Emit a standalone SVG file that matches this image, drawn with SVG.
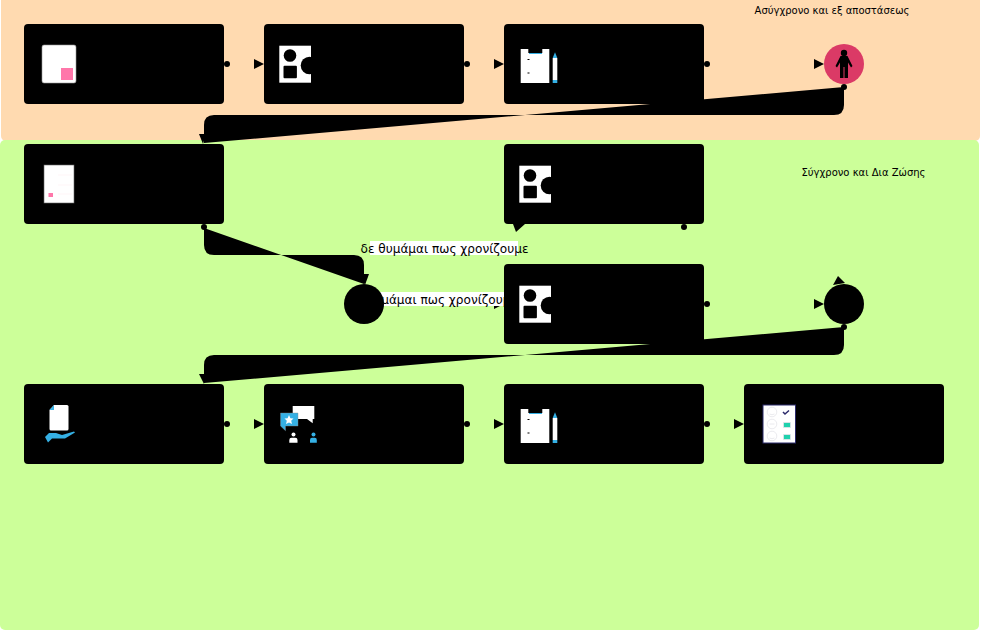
<svg xmlns="http://www.w3.org/2000/svg" width="982" height="632" viewBox="0 0 982 632">
<defs>
<style>
.box{fill:#000}
.t{font-family:"DejaVu Sans",sans-serif;fill:#000}
.w{fill:#fff}
.c{fill:#35b0e4}
</style>
<g id="ic-shapes"><rect x="-0.700" y="-0.300" width="31.700" height="37" class="w"/><circle cx="10" cy="9.500" r="6.300"/><rect x="3.500" y="19.700" width="13.400" height="12.600" rx="1"/><circle cx="29.500" cy="19.500" r="8.800"/></g>
<g id="ic-clip"><path class="w" d="M-0.300 0H7.300V4H21.300V0H28.300V34H-0.300Z"/><rect x="8" y="4" width="13" height="1" class="c"/><rect x="6.500" y="10" width="2" height="1"/><rect x="6.500" y="23.500" width="2" height="1"/><path class="c" d="M31.700 9L34 3.300L36.300 9Z"/><rect x="31.700" y="9" width="4.600" height="22" class="w"/><rect x="31.700" y="31" width="4.600" height="3" class="c"/></g>
<circle id="dot" r="3"/>
<path id="ar" d="M-10 -5L0 0L-10 5Z"/>
</defs>
<rect x="1" y="-6" width="979" height="147" rx="5" fill="#ffdab0"/>
<rect x="0" y="140" width="979" height="490" rx="5" fill="#ccff99"/>
<text class="t" x="832" y="14" font-size="10" text-anchor="middle">Ασύγχρονο και εξ αποστάσεως</text>
<text class="t" x="863.500" y="176" font-size="10" text-anchor="middle">Σύγχρονο και Δια Ζώσης</text>
<g id="connectors">
<use href="#dot" x="227" y="64"/><use href="#ar" x="264" y="64"/>
<use href="#dot" x="467" y="64"/><use href="#ar" x="504" y="64"/>
<use href="#dot" x="707" y="64"/><use href="#ar" x="824" y="64"/>
<path d="M844 87V105Q844 115 834 115H214Q204 115 204 125V143Z"/>
<use href="#dot" x="844" y="87"/><path d="M199 134H206L203 144Z"/>
<path d="M204 228V245Q204 255 214 255H354Q364 255 364 265V284Z"/>
<use href="#dot" x="204" y="227"/><path d="M359 274H369L365 285Z"/>
<use href="#dot" x="684" y="227"/><path d="M513 224H525L516 232Z"/>
<path d="M494 300L504 304L494 309Z"/>
<rect x="370" y="241" width="148" height="14" fill="#fff"/>
<text class="t" x="444.500" y="253" font-size="12.100" text-anchor="middle">δε θυμάμαι πως χρονίζουμε</text>
<rect x="360" y="292" width="146" height="14" fill="#fff"/>
<text class="t" x="433" y="304" font-size="12.100" text-anchor="middle">δε θυμάμαι πως χρονίζουμε</text>
<use href="#dot" x="707" y="304"/><use href="#ar" x="824" y="304"/>
<path d="M833 285L838 276L845 283Z"/>
<path d="M844 327V345Q844 355 834 355H214Q204 355 204 365V383Z"/>
<use href="#dot" x="844" y="327"/><path d="M199 374H206L204 384Z"/>
<use href="#dot" x="227" y="424"/><use href="#ar" x="264" y="424"/>
<use href="#dot" x="467" y="424"/><use href="#ar" x="504" y="424"/>
<use href="#dot" x="707" y="424"/><use href="#ar" x="744" y="424"/>
</g>
<g id="n1"><rect class="box" x="24" y="24" width="200" height="80" rx="4"/>
<rect x="42" y="45" width="34" height="38" rx="2" fill="#fff" stroke="#999" stroke-width=".6"/><rect x="61" y="68" width="12" height="12" fill="#ff77aa"/></g>
<g id="n2"><rect class="box" x="264" y="24" width="200" height="80" rx="4"/><use href="#ic-shapes" x="280" y="46"/></g>
<g id="n3"><rect class="box" x="504" y="24" width="200" height="80" rx="4"/><use href="#ic-clip" x="521" y="49"/></g>
<g id="n4"><circle cx="844" cy="64" r="20" fill="#db3a66"/>
<circle cx="844" cy="53" r="3.200"/><path d="M840.500 56H847.500L852.500 66L851 67.500L848 62.500V78H840V62.500L837 67.500L835.500 66Z"/><rect x="843.500" y="67" width="1" height="11" fill="#db3a66"/></g>
<g id="n5"><rect class="box" x="24" y="144" width="200" height="80" rx="4"/>
<rect x="44" y="165" width="30" height="38" fill="#fff" stroke="#666" stroke-width=".6"/><path d="M58 175H72M58 185H72M58 194H72" stroke="#ffeef2" stroke-width=".6"/><rect x="48.500" y="193" width="4.500" height="4" fill="#ff77aa"/></g>
<g id="n6"><rect class="box" x="504" y="144" width="200" height="80" rx="4"/><use href="#ic-shapes" x="520" y="166"/></g>
<g id="n7"><circle cx="364" cy="304" r="20"/></g>
<g id="n8"><rect class="box" x="504" y="264" width="200" height="80" rx="4"/><use href="#ic-shapes" x="520" y="286"/></g>
<g id="n9"><circle cx="844" cy="304" r="20"/></g>
<g id="n10"><rect class="box" x="24" y="384" width="200" height="80" rx="4"/>
<path class="w" d="M54 405H67Q68.500 405 68.500 406.500V429Q68.500 430.500 67 430.500H51Q49.500 430.500 49.500 429V410Z"/><path class="c" d="M54 405V410H49.500Z"/>
<path class="c" d="M45 437L49 433H56L62 435L74 431.500L75 432.500L65 438.500H52L48 442.500Z"/></g>
<g id="n11"><rect class="box" x="264" y="384" width="200" height="80" rx="4"/>
<path class="w" d="M292.700 406H314.300V419H312.700V423.300L307 419H292.700Z"/>
<path class="c" d="M280.500 413H298V426H285.500V430.700L280.500 426Z" stroke="#888" stroke-width=".4"/>
<path class="w" d="M289 415L290.400 418.300L293.500 418.500L291.200 420.800L292 424L289 422.400L286 424L286.800 420.800L284.500 418.500L287.600 418.300Z"/>
<circle cx="293.500" cy="434.500" r="2" fill="#fff"/><path class="w" d="M289.300 442.700V440Q289.300 437.800 291.500 437.800H295.300Q297.500 437.800 297.500 440V442.700Z"/>
<circle cx="313.500" cy="434.500" r="2" class="c"/><path class="c" d="M310 442.700V440Q310 437.800 312 437.800H314.800Q316.800 437.800 316.800 440V442.700Z"/></g>
<g id="n12"><rect class="box" x="504" y="384" width="200" height="80" rx="4"/><use href="#ic-clip" x="521" y="409"/></g>
<g id="n13"><rect class="box" x="744" y="384" width="200" height="80" rx="4"/>
<rect x="763" y="405" width="32.500" height="38" fill="#fff" stroke="#2b2a6b" stroke-width="1"/>
<g fill="#fff" stroke="#e4e4ea" stroke-width=".8"><circle cx="772" cy="412" r="4.800"/><circle cx="772" cy="424" r="4.800"/><circle cx="772" cy="436" r="4.800"/><path d="M769.500 424H774.500M769.500 414Q772 415.500 774.500 414M769.500 438Q772 439.500 774.500 438"/></g>
<path d="M783 412L785 414L789 410.500" fill="none" stroke="#2b2a6b" stroke-width="1.500"/>
<rect x="783.500" y="422.500" width="7" height="5" fill="#1fd1ad" stroke="#e4e4ea" stroke-width=".8"/><rect x="783.500" y="434.500" width="7" height="5" fill="#1fd1ad" stroke="#e4e4ea" stroke-width=".8"/></g>
</svg>
